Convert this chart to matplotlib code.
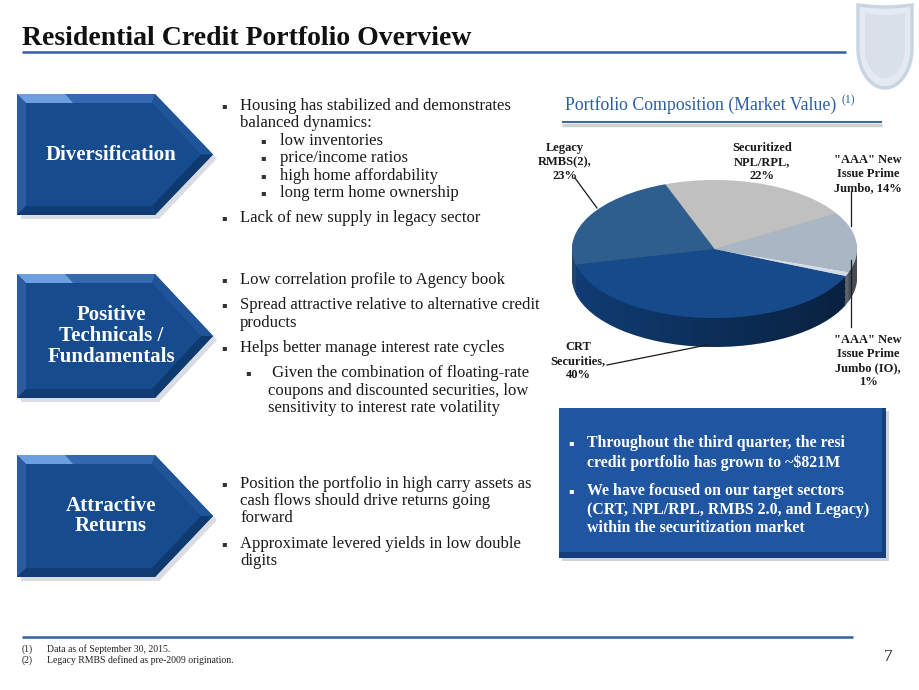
import matplotlib
matplotlib.use('Agg')
import matplotlib.pyplot as plt
from matplotlib.patches import Polygon, Rectangle
import numpy as np

plt.rcParams['font.family'] = ['Liberation Serif', 'DejaVu Serif']

# pie data (market value share, %)
pieNames = ['CRT\nSecurities,\n{}%',
            '"AAA" New\nIssue Prime\nJumbo (IO),\n{}%',
            '"AAA" New\nIssue Prime\nJumbo, {}%',
            'Securitized\nNPL/RPL,\n{}%',
            'Legacy\nRMBS(2),\n{}%']
pieValues = [40, 1, 14, 22, 23]
pieColors = ['#164a8b', '#d5dce4', '#a9b7c4', '#c0c0c0', '#2e5e8e']
sideColors = ['#11407a', '#b9c2cc', '#8c99a6', '#a3a3a3', '#234b75']

title = 'Residential Credit Portfolio Overview'
pieTitle = 'Portfolio Composition (Market Value)'
arrowLabels = ['Diversification', 'Positive\nTechnicals /\nFundamentals', 'Attractive\nReturns']

# (indent level, has bullet, text, baseline y)
bullets = [
    (0, True, 'Housing has stabilized and demonstrates', 110),
    (0, False, 'balanced dynamics:', 127),
    (1, True, 'low inventories', 145),
    (1, True, 'price/income ratios', 162),
    (1, True, 'high home affordability', 180),
    (1, True, 'long term home ownership', 197),
    (0, True, 'Lack of new supply in legacy sector', 222),
    (0, True, 'Low correlation profile to Agency book', 284),
    (0, True, 'Spread attractive relative to alternative credit', 309),
    (0, False, 'products', 327),
    (0, True, 'Helps better manage interest rate cycles', 352),
    (2, True, ' Given the combination of floating-rate', 377),
    (2, False, 'coupons and discounted securities, low', 395),
    (2, False, 'sensitivity to interest rate volatility', 412),
    (0, True, 'Position the portfolio in high carry assets as', 488),
    (0, False, 'cash flows should drive returns going', 505),
    (0, False, 'forward', 522),
    (0, True, 'Approximate levered yields in low double', 548),
    (0, False, 'digits', 565),
]
boxLines = [
    (True, 'Throughout the third quarter, the resi', 447),
    (False, 'credit portfolio has grown to ~$821M', 467),
    (True, 'We have focused on our target sectors', 495),
    (False, '(CRT, NPL/RPL, RMBS 2.0, and Legacy)', 514),
    (False, 'within the securitization market', 532),
]
footnotes = [('(1)', 'Data as of September 30, 2015.'),
             ('(2)', 'Legacy RMBS defined as pre-2009 origination.')]

NAVY = '#164b8e'
LINE = '#2f62a3'


def chevron(ax, y0, y1, label):
    x0, xb, xp = 17, 155, 213
    ym = (y0 + y1) / 2
    b = 9
    ax.add_patch(Polygon([(x0 + 4, y0 + 4), (xb + 4, y0 + 4), (xp + 4, ym + 4), (xb + 4, y1 + 4), (x0 + 4, y1 + 4)],
                         closed=True, fc='#d9dde3', ec='none', zorder=1))
    ax.add_patch(Polygon([(x0, y0), (xb, y0), (xp, ym), (xb, y1), (x0, y1)], closed=True, fc=NAVY, ec='none', zorder=2))
    # bevels
    ax.add_patch(Polygon([(x0, y0), (xb, y0), (xb - 3, y0 + b), (x0 + b, y0 + b)], fc='#3468b0', ec='none', zorder=3))
    ax.add_patch(Polygon([(x0, y0), (x0 + 48, y0), (x0 + 56, y0 + b), (x0 + b, y0 + b)], fc='#6d9fe0', ec='none', zorder=3))
    ax.add_patch(Polygon([(x0, y0), (x0 + b, y0 + b), (x0 + b, y1 - b), (x0, y1)], fc='#2a5c9e', ec='none', zorder=3))
    ax.add_patch(Polygon([(xb, y0), (xp, ym), (xp - 12, ym), (xb - 3, y0 + b)], fc='#1f5598', ec='none', zorder=3))
    ax.add_patch(Polygon([(xp, ym), (xb, y1), (xb - 3, y1 - b), (xp - 12, ym)], fc='#0f3a70', ec='none', zorder=3))
    ax.add_patch(Polygon([(x0, y1), (xb, y1), (xb - 3, y1 - b), (x0 + b, y1 - b)], fc='#113d74', ec='none', zorder=3))
    ax.text((x0 + xp) / 2 - 4, ym, label, color='white', fontsize=15, fontweight='bold',
            ha='center', va='center', linespacing=1.05, zorder=4)


def shield_outline(x0, x1, ytop, yside, ybot):
    xc = (x0 + x1) / 2
    top = [(x, ytop + 2 * np.sin(np.pi * (x - x0) / (x1 - x0))) for x in np.linspace(x0, x1, 20)]
    s = np.linspace(0, 1, 25)
    right = [(x1 - (x1 - xc) * (1 - np.cos(np.pi / 2 * v)), yside + (ybot - yside) * np.sin(np.pi / 2 * v)) for v in s]
    left = [(2 * xc - x, y) for x, y in right[::-1]]
    return top + right + left


fig = plt.figure(figsize=(9.2, 6.9), dpi=100)

ax = fig.add_axes([0, 0, 1, 1], zorder=2)
ax.set_xlim(0, 920)
ax.set_ylim(690, 0)
ax.axis('off')

# title and rules
ax.text(22, 45, title, fontsize=20, fontweight='bold', color='#111111', ha='left', va='baseline')
ax.plot([22, 846], [52, 52], color=LINE, lw=1.8, solid_capstyle='butt')
ax.plot([22, 853], [637, 637], color=LINE, lw=1.8, solid_capstyle='butt')

# shield logo
ax.add_patch(Polygon(shield_outline(858, 912, 5, 48, 88), closed=True, fc='#e4eaf2', ec='#c9d5e3', lw=2.5))
ax.add_patch(Polygon(shield_outline(865, 905, 13, 48, 78), closed=True, fc='#d8e0ea', ec='none'))

# arrows
for (y0, y1), lab in zip([(94, 215), (274, 398), (455, 577)], arrowLabels):
    chevron(ax, y0, y1, lab)

# bullet text
bx = {0: 224, 1: 263, 2: 248}
tx = {0: 240, 1: 280, 2: 268}
for lvl, hasb, txt, y in bullets:
    if hasb:
        ax.text(bx[lvl], y - 4, '\u25aa', fontsize=6, family='DejaVu Sans', color='#333333',
                ha='center', va='center')
    ax.text(tx[lvl], y, txt, fontsize=12, color='#1a1a1a', ha='left', va='baseline')

# pie title
ax.text(565, 110, pieTitle, fontsize=12.8, color='#2a5fa0', ha='left', va='baseline')
ax.text(842, 103, '(1)', fontsize=8.5, color='#2a5fa0', ha='left', va='baseline')
ax.plot([562, 882], [125, 125], color='#d0d0d0', lw=2.5, solid_capstyle='butt')
ax.plot([562, 882], [122, 122], color='#3a6aa5', lw=1.5, solid_capstyle='butt')

# blue box
ax.add_patch(Rectangle((562, 411), 327, 150, fc='#d0d4da', ec='none', zorder=1))
ax.add_patch(Rectangle((559, 408), 327, 150, fc='#1f55a1', ec='none', zorder=2))
ax.add_patch(Rectangle((882, 408), 4, 150, fc='#173f7a', ec='none', zorder=3))
ax.add_patch(Rectangle((559, 552), 327, 6, fc='#153f7c', ec='none', zorder=3))
for hasb, txt, y in boxLines:
    if hasb:
        ax.text(571, y - 4, '\u25aa', fontsize=6, family='DejaVu Sans', color='white',
                ha='center', va='center', zorder=4)
    ax.text(587, y, txt, fontsize=11.4, fontweight='bold', color='white', ha='left', va='baseline', zorder=4)

# footnotes
for i, (num, txt) in enumerate(footnotes):
    ax.text(22, 652 + 11 * i, num, fontsize=7, color='#222222', ha='left', va='baseline')
    ax.text(47, 652 + 11 * i, txt, fontsize=7, color='#222222', ha='left', va='baseline')
ax.text(888, 661, '7', fontsize=12.5, color='#222222', ha='center', va='baseline')

# pie (3D look: stacked layers drawn by ax.pie on a non-equal aspect axes)
W, H = 920.0, 690.0
px0, px1, py0, py1 = 572, 857, 175, 350
axp = fig.add_axes([px0 / W, 1 - py1 / H, (px1 - px0) / W, (py1 - py0) / H], zorder=1)
ry_px = 69.0
ytop = (249 - py0) / ry_px
ybot = ytop - (py1 - py0) / ry_px
depth = 29 / ry_px
start = 193

for d in np.linspace(depth, 0.02, 24):
    axp.pie(pieValues, colors=sideColors, startangle=start, center=(0, -d),
            wedgeprops=dict(linewidth=0))

# shading on the side wall
th = np.linspace(np.pi, 2 * np.pi, 120)
upper = np.column_stack([np.cos(th), np.sin(th)])
lower = np.column_stack([np.cos(th[::-1]), np.sin(th[::-1]) - depth])
clip = Polygon(np.vstack([upper, lower]), closed=True, transform=axp.transData, fc='none', ec='none')
axp.add_patch(clip)
grad = np.zeros((2, 256, 4))
grad[..., 3] = np.linspace(0.05, 0.5, 256)[None, :]
im = axp.imshow(grad, extent=(-1, 1, -1 - depth, 0), aspect='auto', zorder=5)
im.set_clip_path(clip)

wedges, _ = axp.pie(pieValues, colors=pieColors, startangle=start,
                    wedgeprops=dict(linewidth=0))
for w in wedges:
    w.set_zorder(6)

axp.set_aspect('auto')
axp.set_xlim(-1, 1)
axp.set_ylim(ybot, ytop)
axp.axis('off')

# pie labels and leader lines
labelPos = [(578, 361), (868, 361), (868, 174), (762, 162), (565, 162)]
for name, v, (lx, ly) in zip(pieNames, pieValues, labelPos):
    ax.text(lx, ly, name.format(v), fontsize=9, fontweight='bold', color='#1a1a1a',
            ha='center', va='center', linespacing=1.2)
leaders = [([607, 707], [365, 345]), ([851, 851], [260, 327]), ([851, 851], [192, 226]),
           ([575, 597], [178, 208])]
for xs, ys in leaders:
    ax.plot(xs, ys, color='#1a1a1a', lw=0.9)

fig.savefig('out.png', dpi=100)
